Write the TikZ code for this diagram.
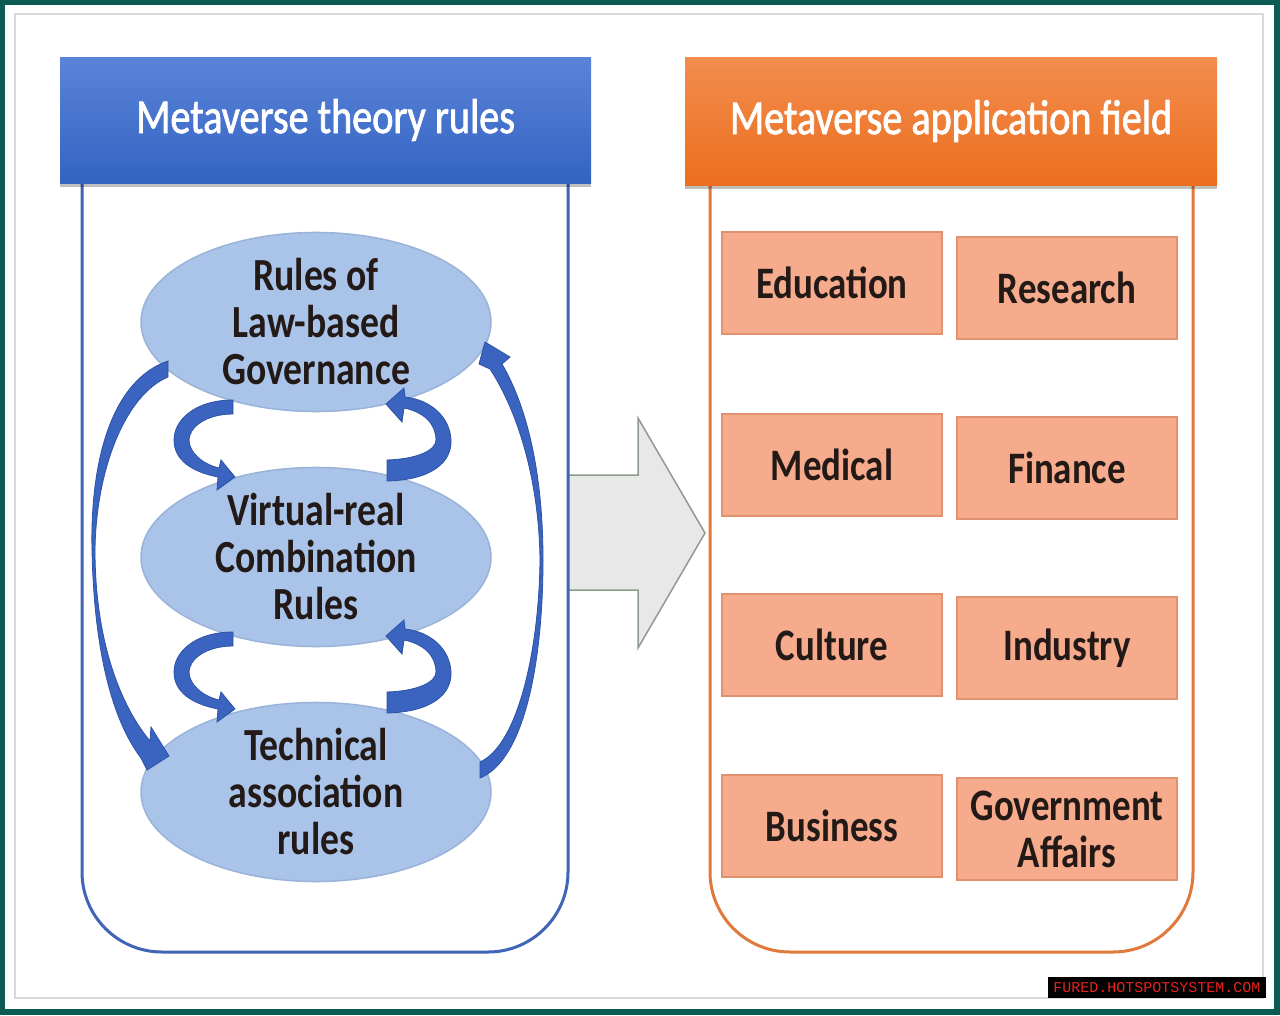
\documentclass[tikz,border=0pt]{standalone}
\usepackage{fontspec}
\setmainfont{Carlito}[FakeStretch=0.82]
\newfontfamily\hdrfont{Carlito}[FakeStretch=0.82,FakeBold=1.5]
\newfontfamily\wmfont{Liberation Mono}
\usetikzlibrary{shapes.geometric,shadows}
\definecolor{tealframe}{HTML}{0B5A53}
\definecolor{framegray}{HTML}{D9D9D9}
\definecolor{hdrbluetop}{HTML}{5A84D8}
\definecolor{hdrbluebot}{HTML}{3463C2}
\definecolor{hdrorgtop}{HTML}{F28D4E}
\definecolor{hdrorgbot}{HTML}{EC6E1E}
\definecolor{panelblue}{HTML}{4064B6}
\definecolor{panelorange}{HTML}{E0793A}
\definecolor{ellfill}{HTML}{A9C4E8}
\definecolor{elldraw}{HTML}{9AB3D8}
\definecolor{arrowblue}{HTML}{3B64C0}
\definecolor{arrowdark}{HTML}{2D52A6}
\definecolor{boxfill}{HTML}{F5AB8C}
\definecolor{boxdraw}{HTML}{E2916E}
\definecolor{darktext}{HTML}{231A18}
\definecolor{bigarrowfill}{HTML}{E7E8E7}
\definecolor{bigarrowdraw}{HTML}{8E9C8E}
\definecolor{wmred}{HTML}{E8231E}
\begin{document}
\begin{tikzpicture}[x=1pt,y=-1pt,
  header/.style={rectangle, text=white, inner sep=0pt,
    font=\hdrfont\fontsize{49}{50}\selectfont,
    drop shadow={shadow xshift=0pt, shadow yshift=-4pt, opacity=0.25, fill=black}},
  rulenode/.style={ellipse, fill=ellfill, draw=elldraw, line width=1.5pt,
    minimum width=350pt, minimum height=178pt, inner sep=0pt, align=center,
    text=darktext, font=\fontsize{46}{47}\selectfont\bfseries},
  fieldbox/.style={rectangle, fill=boxfill, draw=boxdraw, line width=1.5pt,
    minimum width=220pt, minimum height=102pt, inner sep=0pt, align=center,
    text=darktext, font=\fontsize{45}{47}\selectfont\bfseries},
  blockarrow/.style={fill=arrowblue, draw=arrowdark, line width=0.8pt},
  panelline/.style={line width=3pt, rounded corners=80pt}
]
\useasboundingbox (0,0) rectangle (1280,1015);
% frame
\fill[tealframe] (0,0) rectangle (1280,1015);
\fill[white] (5,5) rectangle (1274,1009);
\draw[framegray, line width=2pt] (15,14) rectangle (1263,998);

% big arrow between panels
\draw[fill=bigarrowfill, draw=bigarrowdraw, line width=1.5pt, line join=miter]
  (568,475) -- (638,475) -- (638,418) -- (705,533) -- (638,648) -- (638,590) -- (568,590);

% panels
\draw[panelline, panelblue] (82,150) -- (82,952) -- (568,952) -- (568,150);
\draw[panelline, panelorange] (710,150) -- (710,952) -- (1193,952) -- (1193,150);

% headers
\node[header, top color=hdrbluetop, bottom color=hdrbluebot,
  minimum width=531pt, minimum height=126pt] (hleft) at (325.5,120) {Metaverse theory rules};
\node[header, top color=hdrorgtop, bottom color=hdrorgbot,
  minimum width=532pt, minimum height=128pt] (hright) at (951,121) {Metaverse application field};

% rule ellipses
\node[rulenode] (law) at (316,322) {Rules of\\Law-based\\Governance};
\node[rulenode] (vr) at (316,557) {Virtual-real\\Combination\\Rules};
\node[rulenode] (tech) at (316,792) {Technical\\association\\rules};

% small loop arrows (top pair, then shifted copy)
\foreach \dy in {0,232}{
\begin{scope}[shift={(0,\dy)}]
\draw[blockarrow] (233,400) .. controls (195,400) and (174,420) .. (174,440)
  .. controls (174,460) and (192,472) .. (218,477) -- (217,490) -- (235,477) -- (221,460) -- (219,468)
  .. controls (202,464) and (189,452) .. (189,440) .. controls (189,428) and (205,414) .. (233,414) -- cycle;
\draw[blockarrow] (387,481) .. controls (432,480) and (452,462) .. (451,440)
  .. controls (450,418) and (432,400) .. (405,397) -- (404,388) -- (386,404) -- (402,422) -- (404,408)
  .. controls (424,412) and (436,424) .. (436,440) .. controls (436,450) and (418,459) .. (387,460) -- cycle;
\end{scope}}

% big left arc (law -> tech)
\draw[blockarrow] (168,361) .. controls (112,380) and (90,460) .. (92,550)
  .. controls (94,650) and (112,720) .. (141,758) -- (147,770) -- (169,756) -- (151,727) -- (150,741)
  .. controls (120,705) and (95,640) .. (95,550) .. controls (96,470) and (125,395) .. (168,377) -- cycle;
% big right arc (tech -> law)
\draw[blockarrow] (480,778) .. controls (525,760) and (543,660) .. (543,560)
  .. controls (543,470) and (526,405) .. (502,364) -- (510,357) -- (485,342) -- (479,364) -- (490,369)
  .. controls (518,412) and (539,480) .. (540,560) .. controls (539,650) and (518,745) .. (480,762) -- cycle;

% application field boxes
\node[fieldbox] (edu) at (832,283) {Education};
\node[fieldbox] (res) at (1067,288) {Research};
\node[fieldbox] (med) at (832,465) {Medical};
\node[fieldbox] (fin) at (1067,468) {Finance};
\node[fieldbox] (cul) at (832,645) {Culture};
\node[fieldbox] (ind) at (1067,648) {Industry};
\node[fieldbox] (bus) at (832,826) {Business};
\node[fieldbox] (gov) at (1067,829) {Government\\Affairs};

% watermark
\node[fill=black, text=wmred, inner sep=0pt, minimum width=218pt, minimum height=21pt,
  font=\wmfont\fontsize{15}{15}\selectfont] (wm) at (1157,987.5) {FURED.HOTSPOTSYSTEM.COM};
\end{tikzpicture}
\end{document}
